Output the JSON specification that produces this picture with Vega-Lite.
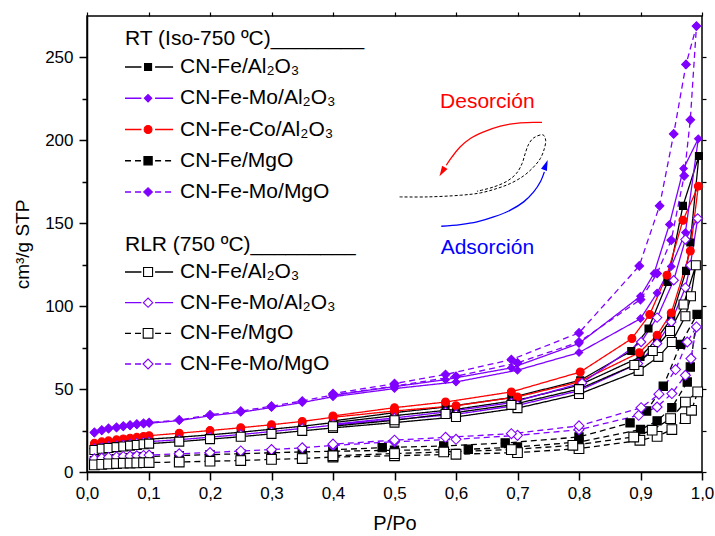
{
"$schema": "https://vega.github.io/schema/vega-lite/v6.json",
"width": 615, "height": 456,
"autosize": {"type": "none"},
"padding": {"left": 87, "top": 16, "right": 13, "bottom": 64},
"background": "white",
"config": {
  "font": "Liberation Sans",
  "view": {"stroke": "black", "strokeWidth": 1.5},
  "axis": {"grid": false, "domainColor": "black", "tickColor": "black", "labelColor": "black", "titleColor": "black", "titleFontWeight": "normal", "labelFont": "Liberation Sans", "titleFont": "Liberation Sans"}
},
"datasets": {
"iso": [
{"s":"RT Fe/Al2O3","i":1,"p":0.012,"v":15.5},{"s":"RT Fe/Al2O3","i":2,"p":0.024,"v":16.3},{"s":"RT Fe/Al2O3","i":3,"p":0.035,"v":16.9},{"s":"RT Fe/Al2O3","i":4,"p":0.048,"v":17.4},{"s":"RT Fe/Al2O3","i":5,"p":0.059,"v":17.9},{"s":"RT Fe/Al2O3","i":6,"p":0.07,"v":18.4},{"s":"RT Fe/Al2O3","i":7,"p":0.081,"v":18.9},{"s":"RT Fe/Al2O3","i":8,"p":0.092,"v":19.4},{"s":"RT Fe/Al2O3","i":9,"p":0.101,"v":19.8},{"s":"RT Fe/Al2O3","i":10,"p":0.15,"v":21.0},{"s":"RT Fe/Al2O3","i":11,"p":0.2,"v":22.4},{"s":"RT Fe/Al2O3","i":12,"p":0.25,"v":24.0},{"s":"RT Fe/Al2O3","i":13,"p":0.3,"v":25.8},{"s":"RT Fe/Al2O3","i":14,"p":0.35,"v":27.6},{"s":"RT Fe/Al2O3","i":15,"p":0.4,"v":29.8},{"s":"RT Fe/Al2O3","i":16,"p":0.5,"v":34.0},{"s":"RT Fe/Al2O3","i":17,"p":0.6,"v":37.8},{"s":"RT Fe/Al2O3","i":18,"p":0.7,"v":43.3},{"s":"RT Fe/Al2O3","i":19,"p":0.8,"v":52.3},{"s":"RT Fe/Al2O3","i":20,"p":0.9,"v":69.4},{"s":"RT Fe/Al2O3","i":21,"p":0.927,"v":80.5},{"s":"RT Fe/Al2O3","i":22,"p":0.95,"v":92.5},{"s":"RT Fe/Al2O3","i":23,"p":0.974,"v":121.3},{"s":"RT Fe/Al2O3","i":24,"p":0.981,"v":138.4},{"s":"RT Fe/Al2O3","i":25,"p":0.995,"v":190.6},{"s":"RT Fe/Al2O3","i":26,"p":0.969,"v":160.5},{"s":"RT Fe/Al2O3","i":27,"p":0.944,"v":114.6},{"s":"RT Fe/Al2O3","i":28,"p":0.913,"v":86.5},{"s":"RT Fe/Al2O3","i":29,"p":0.885,"v":73.0},{"s":"RT Fe/Al2O3","i":30,"p":0.802,"v":55.3},{"s":"RT Fe/Al2O3","i":31,"p":0.69,"v":44.9},{"s":"RT Fe/Al2O3","i":32,"p":0.583,"v":39.2},{"s":"RT Fe/Al2O3","i":33,"p":0.5,"v":35.8},{"s":"RT Fe/Al2O3","i":34,"p":0.4,"v":30.8},
{"s":"RT Fe-Co/Al2O3","i":1,"p":0.012,"v":17.3},{"s":"RT Fe-Co/Al2O3","i":2,"p":0.024,"v":18.2},{"s":"RT Fe-Co/Al2O3","i":3,"p":0.035,"v":18.8},{"s":"RT Fe-Co/Al2O3","i":4,"p":0.048,"v":19.4},{"s":"RT Fe-Co/Al2O3","i":5,"p":0.059,"v":19.9},{"s":"RT Fe-Co/Al2O3","i":6,"p":0.07,"v":20.4},{"s":"RT Fe-Co/Al2O3","i":7,"p":0.081,"v":20.9},{"s":"RT Fe-Co/Al2O3","i":8,"p":0.092,"v":21.4},{"s":"RT Fe-Co/Al2O3","i":9,"p":0.101,"v":21.9},{"s":"RT Fe-Co/Al2O3","i":10,"p":0.15,"v":23.4},{"s":"RT Fe-Co/Al2O3","i":11,"p":0.2,"v":25.0},{"s":"RT Fe-Co/Al2O3","i":12,"p":0.25,"v":26.7},{"s":"RT Fe-Co/Al2O3","i":13,"p":0.3,"v":28.5},{"s":"RT Fe-Co/Al2O3","i":14,"p":0.35,"v":30.5},{"s":"RT Fe-Co/Al2O3","i":15,"p":0.4,"v":33.0},{"s":"RT Fe-Co/Al2O3","i":16,"p":0.5,"v":36.8},{"s":"RT Fe-Co/Al2O3","i":17,"p":0.6,"v":40.0},{"s":"RT Fe-Co/Al2O3","i":18,"p":0.7,"v":45.3},{"s":"RT Fe-Co/Al2O3","i":19,"p":0.8,"v":54.3},{"s":"RT Fe-Co/Al2O3","i":20,"p":0.898,"v":72.0},{"s":"RT Fe-Co/Al2O3","i":21,"p":0.927,"v":82.5},{"s":"RT Fe-Co/Al2O3","i":22,"p":0.95,"v":95.9},{"s":"RT Fe-Co/Al2O3","i":23,"p":0.981,"v":133.3},{"s":"RT Fe-Co/Al2O3","i":24,"p":0.994,"v":172.4},{"s":"RT Fe-Co/Al2O3","i":25,"p":0.969,"v":151.8},{"s":"RT Fe-Co/Al2O3","i":26,"p":0.943,"v":118.7},{"s":"RT Fe-Co/Al2O3","i":27,"p":0.915,"v":95.0},{"s":"RT Fe-Co/Al2O3","i":28,"p":0.886,"v":80.5},{"s":"RT Fe-Co/Al2O3","i":29,"p":0.802,"v":60.3},{"s":"RT Fe-Co/Al2O3","i":30,"p":0.69,"v":48.3},{"s":"RT Fe-Co/Al2O3","i":31,"p":0.583,"v":42.2},{"s":"RT Fe-Co/Al2O3","i":32,"p":0.5,"v":38.8},{"s":"RT Fe-Co/Al2O3","i":33,"p":0.4,"v":33.8},
{"s":"RT Fe-Mo/Al2O3","i":1,"p":0.012,"v":23.5},{"s":"RT Fe-Mo/Al2O3","i":2,"p":0.024,"v":24.9},{"s":"RT Fe-Mo/Al2O3","i":3,"p":0.035,"v":25.9},{"s":"RT Fe-Mo/Al2O3","i":4,"p":0.048,"v":26.6},{"s":"RT Fe-Mo/Al2O3","i":5,"p":0.059,"v":27.3},{"s":"RT Fe-Mo/Al2O3","i":6,"p":0.07,"v":27.9},{"s":"RT Fe-Mo/Al2O3","i":7,"p":0.081,"v":28.5},{"s":"RT Fe-Mo/Al2O3","i":8,"p":0.092,"v":29.0},{"s":"RT Fe-Mo/Al2O3","i":9,"p":0.101,"v":29.4},{"s":"RT Fe-Mo/Al2O3","i":10,"p":0.15,"v":31.0},{"s":"RT Fe-Mo/Al2O3","i":11,"p":0.2,"v":33.9},{"s":"RT Fe-Mo/Al2O3","i":12,"p":0.25,"v":36.0},{"s":"RT Fe-Mo/Al2O3","i":13,"p":0.3,"v":38.9},{"s":"RT Fe-Mo/Al2O3","i":14,"p":0.35,"v":41.9},{"s":"RT Fe-Mo/Al2O3","i":15,"p":0.4,"v":45.4},{"s":"RT Fe-Mo/Al2O3","i":16,"p":0.5,"v":50.3},{"s":"RT Fe-Mo/Al2O3","i":17,"p":0.6,"v":54.3},{"s":"RT Fe-Mo/Al2O3","i":18,"p":0.7,"v":61.4},{"s":"RT Fe-Mo/Al2O3","i":19,"p":0.8,"v":72.0},{"s":"RT Fe-Mo/Al2O3","i":20,"p":0.9,"v":92.5},{"s":"RT Fe-Mo/Al2O3","i":21,"p":0.927,"v":108.0},{"s":"RT Fe-Mo/Al2O3","i":22,"p":0.95,"v":124.0},{"s":"RT Fe-Mo/Al2O3","i":23,"p":0.973,"v":144.4},{"s":"RT Fe-Mo/Al2O3","i":24,"p":0.994,"v":201.0},{"s":"RT Fe-Mo/Al2O3","i":25,"p":0.97,"v":183.0},{"s":"RT Fe-Mo/Al2O3","i":26,"p":0.947,"v":149.3},{"s":"RT Fe-Mo/Al2O3","i":27,"p":0.922,"v":119.7},{"s":"RT Fe-Mo/Al2O3","i":28,"p":0.9,"v":106.0},{"s":"RT Fe-Mo/Al2O3","i":29,"p":0.8,"v":77.5},{"s":"RT Fe-Mo/Al2O3","i":30,"p":0.69,"v":62.8},{"s":"RT Fe-Mo/Al2O3","i":31,"p":0.583,"v":55.7},{"s":"RT Fe-Mo/Al2O3","i":32,"p":0.5,"v":51.5},{"s":"RT Fe-Mo/Al2O3","i":33,"p":0.4,"v":46.3},
{"s":"RT Fe-Mo/MgO","i":1,"p":0.012,"v":23.9},{"s":"RT Fe-Mo/MgO","i":2,"p":0.024,"v":25.3},{"s":"RT Fe-Mo/MgO","i":3,"p":0.035,"v":26.3},{"s":"RT Fe-Mo/MgO","i":4,"p":0.048,"v":27.0},{"s":"RT Fe-Mo/MgO","i":5,"p":0.059,"v":27.7},{"s":"RT Fe-Mo/MgO","i":6,"p":0.07,"v":28.3},{"s":"RT Fe-Mo/MgO","i":7,"p":0.081,"v":28.9},{"s":"RT Fe-Mo/MgO","i":8,"p":0.092,"v":29.4},{"s":"RT Fe-Mo/MgO","i":9,"p":0.101,"v":29.8},{"s":"RT Fe-Mo/MgO","i":10,"p":0.15,"v":31.4},{"s":"RT Fe-Mo/MgO","i":11,"p":0.2,"v":34.5},{"s":"RT Fe-Mo/MgO","i":12,"p":0.25,"v":36.7},{"s":"RT Fe-Mo/MgO","i":13,"p":0.3,"v":39.7},{"s":"RT Fe-Mo/MgO","i":14,"p":0.35,"v":42.8},{"s":"RT Fe-Mo/MgO","i":15,"p":0.4,"v":46.5},{"s":"RT Fe-Mo/MgO","i":16,"p":0.5,"v":51.8},{"s":"RT Fe-Mo/MgO","i":17,"p":0.6,"v":57.7},{"s":"RT Fe-Mo/MgO","i":18,"p":0.7,"v":65.8},{"s":"RT Fe-Mo/MgO","i":19,"p":0.8,"v":78.4},{"s":"RT Fe-Mo/MgO","i":20,"p":0.9,"v":104.0},{"s":"RT Fe-Mo/MgO","i":21,"p":0.927,"v":119.7},{"s":"RT Fe-Mo/MgO","i":22,"p":0.95,"v":139.8},{"s":"RT Fe-Mo/MgO","i":23,"p":0.971,"v":178.6},{"s":"RT Fe-Mo/MgO","i":24,"p":0.981,"v":212.4},{"s":"RT Fe-Mo/MgO","i":25,"p":0.991,"v":268.9},{"s":"RT Fe-Mo/MgO","i":26,"p":0.974,"v":245.8},{"s":"RT Fe-Mo/MgO","i":27,"p":0.954,"v":203.9},{"s":"RT Fe-Mo/MgO","i":28,"p":0.931,"v":160.5},{"s":"RT Fe-Mo/MgO","i":29,"p":0.898,"v":124.3},{"s":"RT Fe-Mo/MgO","i":30,"p":0.8,"v":83.9},{"s":"RT Fe-Mo/MgO","i":31,"p":0.69,"v":67.8},{"s":"RT Fe-Mo/MgO","i":32,"p":0.583,"v":58.8},{"s":"RT Fe-Mo/MgO","i":33,"p":0.5,"v":53.3},{"s":"RT Fe-Mo/MgO","i":34,"p":0.4,"v":47.3},
{"s":"RLR Fe-Mo/Al2O3","i":1,"p":0.012,"v":14.1},{"s":"RLR Fe-Mo/Al2O3","i":2,"p":0.024,"v":14.8},{"s":"RLR Fe-Mo/Al2O3","i":3,"p":0.035,"v":15.4},{"s":"RLR Fe-Mo/Al2O3","i":4,"p":0.048,"v":15.9},{"s":"RLR Fe-Mo/Al2O3","i":5,"p":0.059,"v":16.4},{"s":"RLR Fe-Mo/Al2O3","i":6,"p":0.07,"v":16.9},{"s":"RLR Fe-Mo/Al2O3","i":7,"p":0.081,"v":17.4},{"s":"RLR Fe-Mo/Al2O3","i":8,"p":0.092,"v":17.9},{"s":"RLR Fe-Mo/Al2O3","i":9,"p":0.101,"v":18.3},{"s":"RLR Fe-Mo/Al2O3","i":10,"p":0.15,"v":19.5},{"s":"RLR Fe-Mo/Al2O3","i":11,"p":0.2,"v":21.0},{"s":"RLR Fe-Mo/Al2O3","i":12,"p":0.25,"v":22.6},{"s":"RLR Fe-Mo/Al2O3","i":13,"p":0.3,"v":24.4},{"s":"RLR Fe-Mo/Al2O3","i":14,"p":0.35,"v":26.3},{"s":"RLR Fe-Mo/Al2O3","i":15,"p":0.4,"v":28.2},{"s":"RLR Fe-Mo/Al2O3","i":16,"p":0.5,"v":31.6},{"s":"RLR Fe-Mo/Al2O3","i":17,"p":0.6,"v":34.8},{"s":"RLR Fe-Mo/Al2O3","i":18,"p":0.7,"v":40.2},{"s":"RLR Fe-Mo/Al2O3","i":19,"p":0.8,"v":49.0},{"s":"RLR Fe-Mo/Al2O3","i":20,"p":0.896,"v":65.4},{"s":"RLR Fe-Mo/Al2O3","i":21,"p":0.927,"v":77.5},{"s":"RLR Fe-Mo/Al2O3","i":22,"p":0.95,"v":90.5},{"s":"RLR Fe-Mo/Al2O3","i":23,"p":0.973,"v":111.2},{"s":"RLR Fe-Mo/Al2O3","i":24,"p":0.981,"v":124.7},{"s":"RLR Fe-Mo/Al2O3","i":25,"p":0.993,"v":152.9},{"s":"RLR Fe-Mo/Al2O3","i":26,"p":0.973,"v":140.2},{"s":"RLR Fe-Mo/Al2O3","i":27,"p":0.954,"v":115.6},{"s":"RLR Fe-Mo/Al2O3","i":28,"p":0.927,"v":93.1},{"s":"RLR Fe-Mo/Al2O3","i":29,"p":0.901,"v":78.4},{"s":"RLR Fe-Mo/Al2O3","i":30,"p":0.805,"v":53.7},{"s":"RLR Fe-Mo/Al2O3","i":31,"p":0.69,"v":41.8},{"s":"RLR Fe-Mo/Al2O3","i":32,"p":0.583,"v":36.2},{"s":"RLR Fe-Mo/Al2O3","i":33,"p":0.5,"v":32.6},{"s":"RLR Fe-Mo/Al2O3","i":34,"p":0.4,"v":28.8},
{"s":"RLR Fe/Al2O3","i":1,"p":0.012,"v":13.3},{"s":"RLR Fe/Al2O3","i":2,"p":0.024,"v":14.0},{"s":"RLR Fe/Al2O3","i":3,"p":0.035,"v":14.5},{"s":"RLR Fe/Al2O3","i":4,"p":0.048,"v":15.0},{"s":"RLR Fe/Al2O3","i":5,"p":0.059,"v":15.4},{"s":"RLR Fe/Al2O3","i":6,"p":0.07,"v":15.9},{"s":"RLR Fe/Al2O3","i":7,"p":0.081,"v":16.3},{"s":"RLR Fe/Al2O3","i":8,"p":0.092,"v":16.7},{"s":"RLR Fe/Al2O3","i":9,"p":0.101,"v":17.1},{"s":"RLR Fe/Al2O3","i":10,"p":0.15,"v":18.3},{"s":"RLR Fe/Al2O3","i":11,"p":0.2,"v":19.8},{"s":"RLR Fe/Al2O3","i":12,"p":0.25,"v":21.3},{"s":"RLR Fe/Al2O3","i":13,"p":0.3,"v":23.0},{"s":"RLR Fe/Al2O3","i":14,"p":0.35,"v":24.8},{"s":"RLR Fe/Al2O3","i":15,"p":0.4,"v":26.6},{"s":"RLR Fe/Al2O3","i":16,"p":0.5,"v":29.8},{"s":"RLR Fe/Al2O3","i":17,"p":0.6,"v":33.2},{"s":"RLR Fe/Al2O3","i":18,"p":0.7,"v":38.5},{"s":"RLR Fe/Al2O3","i":19,"p":0.8,"v":47.0},{"s":"RLR Fe/Al2O3","i":20,"p":0.897,"v":61.0},{"s":"RLR Fe/Al2O3","i":21,"p":0.929,"v":69.4},{"s":"RLR Fe/Al2O3","i":22,"p":0.951,"v":78.4},{"s":"RLR Fe/Al2O3","i":23,"p":0.973,"v":93.9},{"s":"RLR Fe/Al2O3","i":24,"p":0.982,"v":106.0},{"s":"RLR Fe/Al2O3","i":25,"p":0.99,"v":124.7},{"s":"RLR Fe/Al2O3","i":26,"p":0.97,"v":101.0},{"s":"RLR Fe/Al2O3","i":27,"p":0.948,"v":85.0},{"s":"RLR Fe/Al2O3","i":28,"p":0.92,"v":73.0},{"s":"RLR Fe/Al2O3","i":29,"p":0.89,"v":64.5},{"s":"RLR Fe/Al2O3","i":30,"p":0.8,"v":50.0},{"s":"RLR Fe/Al2O3","i":31,"p":0.69,"v":40.5},{"s":"RLR Fe/Al2O3","i":32,"p":0.583,"v":35.0},{"s":"RLR Fe/Al2O3","i":33,"p":0.5,"v":31.2},{"s":"RLR Fe/Al2O3","i":34,"p":0.4,"v":27.6},
{"s":"RT Fe/MgO","i":1,"p":0.012,"v":6.8},{"s":"RT Fe/MgO","i":2,"p":0.024,"v":7.3},{"s":"RT Fe/MgO","i":3,"p":0.035,"v":7.7},{"s":"RT Fe/MgO","i":4,"p":0.048,"v":8.0},{"s":"RT Fe/MgO","i":5,"p":0.059,"v":8.3},{"s":"RT Fe/MgO","i":6,"p":0.07,"v":8.6},{"s":"RT Fe/MgO","i":7,"p":0.081,"v":8.9},{"s":"RT Fe/MgO","i":8,"p":0.092,"v":9.1},{"s":"RT Fe/MgO","i":9,"p":0.101,"v":9.3},{"s":"RT Fe/MgO","i":10,"p":0.15,"v":9.9},{"s":"RT Fe/MgO","i":11,"p":0.2,"v":10.5},{"s":"RT Fe/MgO","i":12,"p":0.25,"v":11.0},{"s":"RT Fe/MgO","i":13,"p":0.3,"v":11.6},{"s":"RT Fe/MgO","i":14,"p":0.35,"v":12.1},{"s":"RT Fe/MgO","i":15,"p":0.4,"v":12.5},{"s":"RT Fe/MgO","i":16,"p":0.5,"v":13.1},{"s":"RT Fe/MgO","i":17,"p":0.62,"v":13.7},{"s":"RT Fe/MgO","i":18,"p":0.7,"v":15.1},{"s":"RT Fe/MgO","i":19,"p":0.8,"v":18.1},{"s":"RT Fe/MgO","i":20,"p":0.9,"v":25.6},{"s":"RT Fe/MgO","i":21,"p":0.927,"v":30.8},{"s":"RT Fe/MgO","i":22,"p":0.951,"v":38.8},{"s":"RT Fe/MgO","i":23,"p":0.976,"v":54.3},{"s":"RT Fe/MgO","i":24,"p":0.981,"v":63.3},{"s":"RT Fe/MgO","i":25,"p":0.992,"v":95.1},{"s":"RT Fe/MgO","i":26,"p":0.965,"v":77.0},{"s":"RT Fe/MgO","i":27,"p":0.937,"v":51.7},{"s":"RT Fe/MgO","i":28,"p":0.91,"v":36.8},{"s":"RT Fe/MgO","i":29,"p":0.883,"v":29.6},{"s":"RT Fe/MgO","i":30,"p":0.8,"v":21.1},{"s":"RT Fe/MgO","i":31,"p":0.68,"v":17.5},{"s":"RT Fe/MgO","i":32,"p":0.58,"v":15.7},{"s":"RT Fe/MgO","i":33,"p":0.48,"v":14.7},{"s":"RT Fe/MgO","i":34,"p":0.4,"v":13.4},
{"s":"RLR Fe-Mo/MgO","i":1,"p":0.012,"v":7.9},{"s":"RLR Fe-Mo/MgO","i":2,"p":0.024,"v":8.4},{"s":"RLR Fe-Mo/MgO","i":3,"p":0.035,"v":8.8},{"s":"RLR Fe-Mo/MgO","i":4,"p":0.048,"v":9.1},{"s":"RLR Fe-Mo/MgO","i":5,"p":0.059,"v":9.4},{"s":"RLR Fe-Mo/MgO","i":6,"p":0.07,"v":9.6},{"s":"RLR Fe-Mo/MgO","i":7,"p":0.081,"v":9.8},{"s":"RLR Fe-Mo/MgO","i":8,"p":0.092,"v":10.0},{"s":"RLR Fe-Mo/MgO","i":9,"p":0.101,"v":10.2},{"s":"RLR Fe-Mo/MgO","i":10,"p":0.15,"v":11.0},{"s":"RLR Fe-Mo/MgO","i":11,"p":0.2,"v":11.7},{"s":"RLR Fe-Mo/MgO","i":12,"p":0.25,"v":12.7},{"s":"RLR Fe-Mo/MgO","i":13,"p":0.3,"v":13.5},{"s":"RLR Fe-Mo/MgO","i":14,"p":0.35,"v":14.6},{"s":"RLR Fe-Mo/MgO","i":15,"p":0.4,"v":16.0},{"s":"RLR Fe-Mo/MgO","i":16,"p":0.5,"v":18.3},{"s":"RLR Fe-Mo/MgO","i":17,"p":0.6,"v":19.7},{"s":"RLR Fe-Mo/MgO","i":18,"p":0.7,"v":22.1},{"s":"RLR Fe-Mo/MgO","i":19,"p":0.8,"v":25.5},{"s":"RLR Fe-Mo/MgO","i":20,"p":0.897,"v":34.2},{"s":"RLR Fe-Mo/MgO","i":21,"p":0.927,"v":39.2},{"s":"RLR Fe-Mo/MgO","i":22,"p":0.951,"v":47.3},{"s":"RLR Fe-Mo/MgO","i":23,"p":0.973,"v":58.3},{"s":"RLR Fe-Mo/MgO","i":24,"p":0.982,"v":68.4},{"s":"RLR Fe-Mo/MgO","i":25,"p":0.991,"v":87.5},{"s":"RLR Fe-Mo/MgO","i":26,"p":0.976,"v":78.4},{"s":"RLR Fe-Mo/MgO","i":27,"p":0.957,"v":61.8},{"s":"RLR Fe-Mo/MgO","i":28,"p":0.93,"v":46.9},{"s":"RLR Fe-Mo/MgO","i":29,"p":0.901,"v":38.8},{"s":"RLR Fe-Mo/MgO","i":30,"p":0.8,"v":27.8},{"s":"RLR Fe-Mo/MgO","i":31,"p":0.69,"v":23.1},{"s":"RLR Fe-Mo/MgO","i":32,"p":0.583,"v":20.9},{"s":"RLR Fe-Mo/MgO","i":33,"p":0.5,"v":19.2},{"s":"RLR Fe-Mo/MgO","i":34,"p":0.4,"v":16.8},
{"s":"RLR Fe/MgO","i":1,"p":0.012,"v":4.3},{"s":"RLR Fe/MgO","i":2,"p":0.024,"v":4.6},{"s":"RLR Fe/MgO","i":3,"p":0.035,"v":4.9},{"s":"RLR Fe/MgO","i":4,"p":0.048,"v":5.1},{"s":"RLR Fe/MgO","i":5,"p":0.059,"v":5.3},{"s":"RLR Fe/MgO","i":6,"p":0.07,"v":5.4},{"s":"RLR Fe/MgO","i":7,"p":0.081,"v":5.5},{"s":"RLR Fe/MgO","i":8,"p":0.092,"v":5.6},{"s":"RLR Fe/MgO","i":9,"p":0.101,"v":5.7},{"s":"RLR Fe/MgO","i":10,"p":0.15,"v":6.0},{"s":"RLR Fe/MgO","i":11,"p":0.2,"v":6.5},{"s":"RLR Fe/MgO","i":12,"p":0.25,"v":6.9},{"s":"RLR Fe/MgO","i":13,"p":0.3,"v":7.6},{"s":"RLR Fe/MgO","i":14,"p":0.35,"v":8.1},{"s":"RLR Fe/MgO","i":15,"p":0.4,"v":9.0},{"s":"RLR Fe/MgO","i":16,"p":0.5,"v":9.8},{"s":"RLR Fe/MgO","i":17,"p":0.6,"v":10.7},{"s":"RLR Fe/MgO","i":18,"p":0.7,"v":11.7},{"s":"RLR Fe/MgO","i":19,"p":0.8,"v":14.1},{"s":"RLR Fe/MgO","i":20,"p":0.899,"v":19.1},{"s":"RLR Fe/MgO","i":21,"p":0.927,"v":21.5},{"s":"RLR Fe/MgO","i":22,"p":0.951,"v":25.6},{"s":"RLR Fe/MgO","i":23,"p":0.973,"v":32.2},{"s":"RLR Fe/MgO","i":24,"p":0.983,"v":37.2},{"s":"RLR Fe/MgO","i":25,"p":0.993,"v":48.3},{"s":"RLR Fe/MgO","i":26,"p":0.973,"v":42.2},{"s":"RLR Fe/MgO","i":27,"p":0.949,"v":32.2},{"s":"RLR Fe/MgO","i":28,"p":0.919,"v":25.2},{"s":"RLR Fe/MgO","i":29,"p":0.889,"v":21.1},{"s":"RLR Fe/MgO","i":30,"p":0.79,"v":16.1},{"s":"RLR Fe/MgO","i":31,"p":0.69,"v":13.5},{"s":"RLR Fe/MgO","i":32,"p":0.58,"v":12.1},{"s":"RLR Fe/MgO","i":33,"p":0.5,"v":11.1},{"s":"RLR Fe/MgO","i":34,"p":0.4,"v":9.8}
],
"legend": [
{"row":0,"kind":"header","label":"RT (Iso-750 ºC)________"},
{"row":1,"kind":"item","s":"RT Fe/Al2O3","label":"CN-Fe/Al₂O₃"},
{"row":2,"kind":"item","s":"RT Fe-Mo/Al2O3","label":"CN-Fe-Mo/Al₂O₃"},
{"row":3,"kind":"item","s":"RT Fe-Co/Al2O3","label":"CN-Fe-Co/Al₂O₃"},
{"row":4,"kind":"item","s":"RT Fe/MgO","label":"CN-Fe/MgO"},
{"row":5,"kind":"item","s":"RT Fe-Mo/MgO","label":"CN-Fe-Mo/MgO"},
{"row":6,"kind":"header","label":"RLR (750 ºC)_________"},
{"row":7,"kind":"item","s":"RLR Fe/Al2O3","label":"CN-Fe/Al₂O₃"},
{"row":8,"kind":"item","s":"RLR Fe-Mo/Al2O3","label":"CN-Fe-Mo/Al₂O₃"},
{"row":9,"kind":"item","s":"RLR Fe/MgO","label":"CN-Fe/MgO"},
{"row":10,"kind":"item","s":"RLR Fe-Mo/MgO","label":"CN-Fe-Mo/MgO"}
],
"annot": [
{"g":"des","i":1,"p":0.7399,"v":210.8},{"g":"des","i":2,"p":0.7046,"v":210.6},{"g":"des","i":3,"p":0.6721,"v":208.6},{"g":"des","i":4,"p":0.645,"v":205.1},{"g":"des","i":5,"p":0.6233,"v":201.1},{"g":"des","i":6,"p":0.607,"v":196.1},{"g":"des","i":7,"p":0.5935,"v":190.0},{"g":"des","i":8,"p":0.5842,"v":185.0},
{"g":"ads","i":1,"p":0.5761,"v":148.2},{"g":"ads","i":2,"p":0.607,"v":149.2},{"g":"ads","i":3,"p":0.6341,"v":150.8},{"g":"ads","i":4,"p":0.6612,"v":153.8},{"g":"ads","i":5,"p":0.6884,"v":157.9},{"g":"ads","i":6,"p":0.71,"v":162.9},{"g":"ads","i":7,"p":0.7263,"v":168.9},{"g":"ads","i":8,"p":0.7372,"v":175.0},{"g":"ads","i":9,"p":0.7437,"v":181.0},
{"g":"loop","i":1,"p":0.5083,"v":165.9},{"g":"loop","i":2,"p":0.5528,"v":165.9},{"g":"loop","i":3,"p":0.607,"v":166.9},{"g":"loop","i":4,"p":0.6395,"v":168.3},{"g":"loop","i":5,"p":0.6667,"v":171.0},{"g":"loop","i":6,"p":0.6884,"v":174.0},{"g":"loop","i":7,"p":0.71,"v":178.6},{"g":"loop","i":8,"p":0.7263,"v":184.0},{"g":"loop","i":9,"p":0.7372,"v":189.1},{"g":"loop","i":10,"p":0.7437,"v":195.1},{"g":"loop","i":11,"p":0.7458,"v":200.1},{"g":"loop","i":12,"p":0.7416,"v":203.3},{"g":"loop","i":13,"p":0.7263,"v":201.5},{"g":"loop","i":14,"p":0.7182,"v":197.7},{"g":"loop","i":15,"p":0.7128,"v":192.4},{"g":"loop","i":16,"p":0.7074,"v":186.0},{"g":"loop","i":17,"p":0.6981,"v":180.0},{"g":"loop","i":18,"p":0.683,"v":175.4},{"g":"loop","i":19,"p":0.6612,"v":171.9},{"g":"loop","i":20,"p":0.6341,"v":169.3},
{"g":"desHead","i":1,"p":0.5775,"v":181.0},
{"g":"adsHead","i":1,"p":0.7461,"v":185.2},
{"g":"desText","i":1,"p":0.651,"v":223.2,"t":"Desorción"},
{"g":"adsText","i":1,"p":0.651,"v":134.8,"t":"Adsorción"}
]
},
"layer": [
{
  "data": {"name": "iso"},
  "layer": [
    {
      "mark": {"type": "line", "strokeWidth": 1.3},
      "encoding": {
        "x": {"field": "p", "type": "quantitative", "scale": {"domain": [0, 1], "nice": false, "zero": false},
          "axis": {"orient": "bottom", "values": [0,0.05,0.1,0.15,0.2,0.25,0.3,0.35,0.4,0.45,0.5,0.55,0.6,0.65,0.7,0.75,0.8,0.85,0.9,0.95,1],
            "labelExpr": "abs(datum.value*10 - round(datum.value*10)) < 0.01 ? replace(format(datum.value, '.1f'), '.', ',') : ''",
            "tickSize": {"condition": {"test": "abs(datum.value*10 - round(datum.value*10)) > 0.01", "value": 5}, "value": 8},
            "tickWidth": 1.5, "domainWidth": 1.5, "labelFontSize": 17, "labelPadding": 5, "labelOverlap": false, "labelFlush": false,
            "title": "P/Po", "titleFontSize": 20, "titlePadding": 12}},
        "y": {"field": "v", "type": "quantitative", "scale": {"domain": [0, 275], "nice": false, "zero": false},
          "axis": {"orient": "left", "values": [0,25,50,75,100,125,150,175,200,225,250],
            "labelExpr": "datum.value % 50 == 0 ? format(datum.value, 'd') : ''",
            "tickSize": {"condition": {"test": "datum.value % 50 != 0", "value": 5}, "value": 8},
            "tickWidth": 1.5, "domainWidth": 1.5, "labelFontSize": 17, "labelPadding": 6, "labelOverlap": false,
            "title": "cm³/g STP", "titleFontSize": 19, "titlePadding": 12}},
        "order": {"field": "i", "type": "quantitative"},
        "stroke": {"field": "s", "type": "nominal", "legend": null,
          "scale": {"domain": ["RT Fe/Al2O3","RT Fe-Mo/Al2O3","RT Fe-Co/Al2O3","RT Fe/MgO","RT Fe-Mo/MgO","RLR Fe/Al2O3","RLR Fe-Mo/Al2O3","RLR Fe/MgO","RLR Fe-Mo/MgO"],
            "range": ["#000000","#7f00ff","#ff0000","#000000","#7f00ff","#000000","#7f00ff","#000000","#7f00ff"]}},
        "strokeDash": {"field": "s", "type": "nominal", "legend": null,
          "scale": {"domain": ["RT Fe/Al2O3","RT Fe-Mo/Al2O3","RT Fe-Co/Al2O3","RT Fe/MgO","RT Fe-Mo/MgO","RLR Fe/Al2O3","RLR Fe-Mo/Al2O3","RLR Fe/MgO","RLR Fe-Mo/MgO"],
            "range": [[1,0],[1,0],[1,0],[6,4],[6,4],[1,0],[1,0],[6,4],[6,4]]}}
      }
    },
    {
      "mark": {"type": "point", "filled": true, "opacity": 1, "strokeWidth": 1.1},
      "encoding": {
        "x": {"field": "p", "type": "quantitative"},
        "y": {"field": "v", "type": "quantitative"},
        "shape": {"field": "s", "type": "nominal", "legend": null,
          "scale": {"domain": ["RT Fe/Al2O3","RT Fe-Mo/Al2O3","RT Fe-Co/Al2O3","RT Fe/MgO","RT Fe-Mo/MgO","RLR Fe/Al2O3","RLR Fe-Mo/Al2O3","RLR Fe/MgO","RLR Fe-Mo/MgO"],
            "range": ["square","diamond","circle","square","diamond","square","diamond","square","diamond"]}},
        "fill": {"field": "s", "type": "nominal", "legend": null,
          "scale": {"domain": ["RT Fe/Al2O3","RT Fe-Mo/Al2O3","RT Fe-Co/Al2O3","RT Fe/MgO","RT Fe-Mo/MgO","RLR Fe/Al2O3","RLR Fe-Mo/Al2O3","RLR Fe/MgO","RLR Fe-Mo/MgO"],
            "range": ["#000000","#7f00ff","#ff0000","#000000","#7f00ff","#ffffff","#ffffff","#ffffff","#ffffff"]}},
        "stroke": {"field": "s", "type": "nominal", "legend": null},
        "size": {"field": "s", "type": "ordinal", "legend": null,
          "scale": {"domain": ["RT Fe/Al2O3","RT Fe-Mo/Al2O3","RT Fe-Co/Al2O3","RT Fe/MgO","RT Fe-Mo/MgO","RLR Fe/Al2O3","RLR Fe-Mo/Al2O3","RLR Fe/MgO","RLR Fe-Mo/MgO"],
            "range": [49,100,64,49,100,42,72,42,72]}}
      }
    }
  ]
},
{
  "data": {"name": "annot"},
  "layer": [
    {
      "transform": [{"filter": "datum.g == 'des'"}],
      "mark": {"type": "line", "color": "#ff0000", "strokeWidth": 1.3, "interpolate": "catmull-rom"},
      "encoding": {
        "x": {"field": "p", "type": "quantitative", "scale": {"domain": [0, 1], "nice": false, "zero": false},
          "axis": {"orient": "top", "values": [0,0.05,0.1,0.15,0.2,0.25,0.3,0.35,0.4,0.45,0.5,0.55,0.6,0.65,0.7,0.75,0.8,0.85,0.9,0.95,1], "labels": false, "domain": false, "tickSize": 4, "tickWidth": 1.2, "title": null}},
        "y": {"field": "v", "type": "quantitative", "scale": {"domain": [0, 275], "nice": false, "zero": false},
          "axis": {"orient": "right", "values": [0,25,50,75,100,125,150,175,200,225,250], "labels": false, "domain": false, "tickSize": 4, "tickWidth": 1.2, "title": null}},
        "order": {"field": "i", "type": "quantitative"}
      }
    },
    {
      "transform": [{"filter": "datum.g == 'ads'"}],
      "mark": {"type": "line", "color": "#0000ff", "strokeWidth": 1.3, "interpolate": "catmull-rom"},
      "encoding": {
        "x": {"field": "p", "type": "quantitative"},
        "y": {"field": "v", "type": "quantitative"},
        "order": {"field": "i", "type": "quantitative"}
      }
    },
    {
      "transform": [{"filter": "datum.g == 'loop'"}],
      "mark": {"type": "line", "color": "#000000", "strokeWidth": 1, "strokeDash": [3, 2], "interpolate": "catmull-rom"},
      "encoding": {
        "x": {"field": "p", "type": "quantitative"},
        "y": {"field": "v", "type": "quantitative"},
        "order": {"field": "i", "type": "quantitative"}
      }
    },
    {
      "transform": [{"filter": "datum.g == 'desHead'"}],
      "mark": {"type": "point", "shape": "M0,-1L0.6,1L-0.6,1Z", "filled": true, "color": "#ff0000", "opacity": 1, "size": 110, "angle": 211},
      "encoding": {
        "x": {"field": "p", "type": "quantitative"},
        "y": {"field": "v", "type": "quantitative"}
      }
    },
    {
      "transform": [{"filter": "datum.g == 'adsHead'"}],
      "mark": {"type": "point", "shape": "M0,-1L0.6,1L-0.6,1Z", "filled": true, "color": "#0000ff", "opacity": 1, "size": 110, "angle": 21},
      "encoding": {
        "x": {"field": "p", "type": "quantitative"},
        "y": {"field": "v", "type": "quantitative"}
      }
    },
    {
      "transform": [{"filter": "datum.g == 'desText'"}],
      "mark": {"type": "text", "color": "#ff0000", "fontSize": 21, "align": "center", "baseline": "middle"},
      "encoding": {
        "x": {"field": "p", "type": "quantitative"},
        "y": {"field": "v", "type": "quantitative"},
        "text": {"field": "t"}
      }
    },
    {
      "transform": [{"filter": "datum.g == 'adsText'"}],
      "mark": {"type": "text", "color": "#0000ff", "fontSize": 21, "align": "center", "baseline": "middle"},
      "encoding": {
        "x": {"field": "p", "type": "quantitative"},
        "y": {"field": "v", "type": "quantitative"},
        "text": {"field": "t"}
      }
    }
  ]
},
{
  "data": {"name": "legend"},
  "layer": [
    {
      "transform": [{"filter": "datum.kind == 'header'"}],
      "mark": {"type": "text", "fontSize": 21, "align": "left", "baseline": "middle", "color": "#000000"},
      "encoding": {
        "x": {"datum": 0.0618, "type": "quantitative", "scale": {"domain": [0, 1], "nice": false, "zero": false}, "axis": null},
        "y": {"field": "row", "type": "quantitative", "scale": {"domain": [0, 1, 5, 6, 7, 10], "range": [23, 51, 176, 229, 256, 348], "nice": false, "zero": false}, "axis": null},
        "text": {"field": "label"}
      }
    },
    {
      "transform": [{"filter": "datum.kind == 'item'"}],
      "mark": {"type": "rule", "strokeWidth": 1.3},
      "encoding": {
        "x": {"datum": 0.0618, "type": "quantitative"},
        "x2": {"datum": 0.0885},
        "y": {"field": "row", "type": "quantitative"},
        "stroke": {"field": "s", "type": "nominal", "legend": null},
        "strokeDash": {"field": "s", "type": "nominal", "legend": null}
      }
    },
    {
      "transform": [{"filter": "datum.kind == 'item'"}],
      "mark": {"type": "rule", "strokeWidth": 1.3},
      "encoding": {
        "x": {"datum": 0.1107, "type": "quantitative"},
        "x2": {"datum": 0.1400},
        "y": {"field": "row", "type": "quantitative"},
        "stroke": {"field": "s", "type": "nominal", "legend": null},
        "strokeDash": {"field": "s", "type": "nominal", "legend": null}
      }
    },
    {
      "transform": [{"filter": "datum.kind == 'item'"}],
      "mark": {"type": "point", "filled": true, "opacity": 1, "strokeWidth": 1.1},
      "encoding": {
        "x": {"datum": 0.0993, "type": "quantitative"},
        "y": {"field": "row", "type": "quantitative"},
        "shape": {"field": "s", "type": "nominal", "legend": null},
        "fill": {"field": "s", "type": "nominal", "legend": null},
        "stroke": {"field": "s", "type": "nominal", "legend": null},
        "size": {"field": "s", "type": "ordinal", "legend": null}
      }
    },
    {
      "transform": [{"filter": "datum.kind == 'item'"}],
      "mark": {"type": "text", "fontSize": 21, "align": "left", "baseline": "middle", "color": "#000000"},
      "encoding": {
        "x": {"datum": 0.1513, "type": "quantitative"},
        "y": {"field": "row", "type": "quantitative"},
        "text": {"field": "label"}
      }
    }
  ]
}
],
"resolve": {"scale": {"x": "independent", "y": "independent"}}
}
